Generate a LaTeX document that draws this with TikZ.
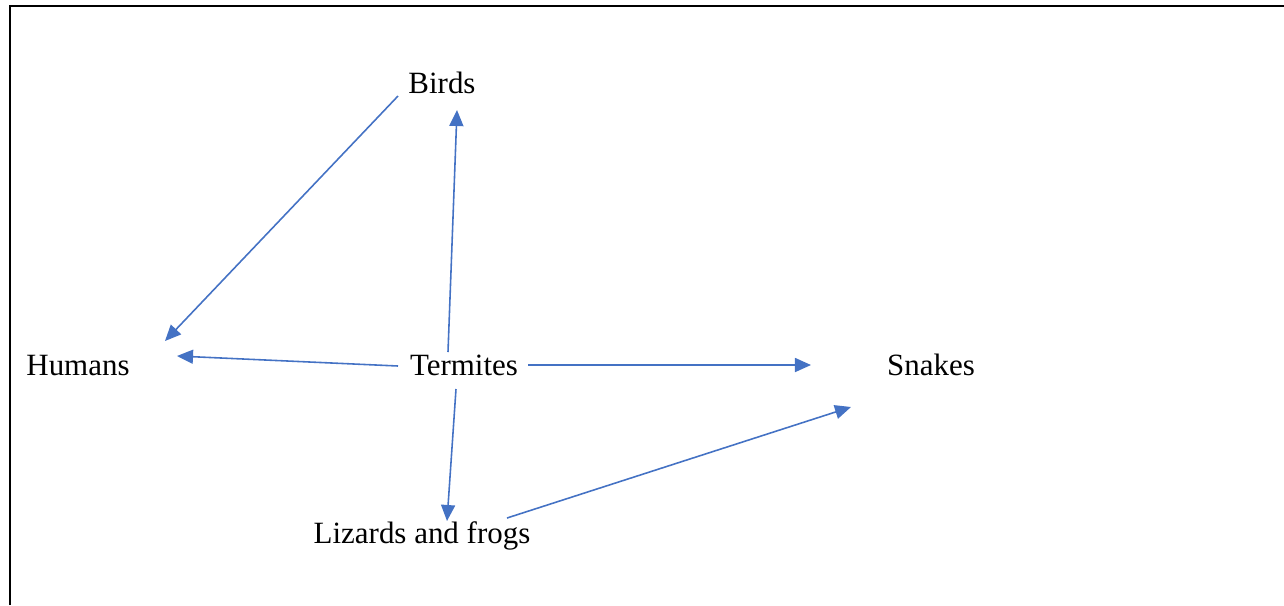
\documentclass[tikz,border=0pt]{standalone}
\usepackage{fontspec}
\setmainfont{Liberation Serif}
\usepackage{tikz}
\usetikzlibrary{arrows.meta,positioning}

\definecolor{linkblue}{HTML}{4472C4}

\begin{document}
\begin{tikzpicture}[
    x=0.01cm, y=-0.01cm,
    animal/.style={inner sep=0pt, anchor=base, font=\fontsize{8.8}{10}\selectfont},
    arrow/.style={-{Triangle[length=0.16cm, width=0.14cm]}, draw=linkblue, fill=linkblue, line width=0.45pt},
    frame/.style={line width=0.8pt, draw=black}
]
\useasboundingbox (0,0) rectangle (1284,605);

% Frame (open at the bottom and the right)
\draw[frame] (10,605) -- (10,6) -- (1284,6);

% Animals
\node[animal] (birds) at (442,93) {Birds};
\node[animal] (humans) at (78,375) {Humans};
\node[animal] (termites) at (464,375) {Termites};
\node[animal] (snakes) at (931,375) {Snakes};
\node[animal] (lizards) at (422,543) {Lizards and frogs};

% Arrows
\draw[arrow] ([shift={(-44,3)}]birds.base) -- ([shift={(87,-34)}]humans.base);
\draw[arrow] ([shift={(-16,-23)}]termites.base) -- ([shift={(15,17)}]birds.base);
\draw[arrow] ([shift={(-66,-9)}]termites.base) -- ([shift={(99,-19)}]humans.base);
\draw[arrow] ([shift={(64,-10)}]termites.base) -- ([shift={(-120,-10)}]snakes.base);
\draw[arrow] ([shift={(-8,14)}]termites.base) -- ([shift={(25,-22)}]lizards.base);
\draw[arrow] ([shift={(85,-25)}]lizards.base) -- ([shift={(-80,32)}]snakes.base);

\end{tikzpicture}
\end{document}
